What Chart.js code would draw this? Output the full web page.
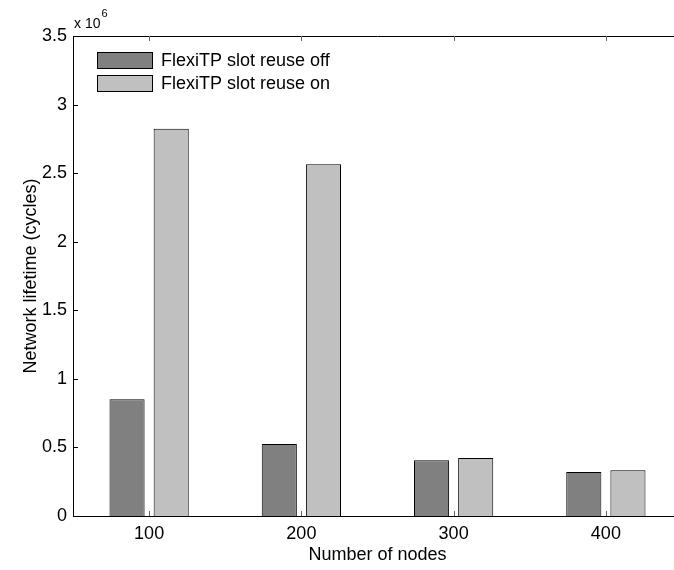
<!DOCTYPE html>
<html>
<head>
<meta charset="utf-8">
<script src="https://cdn.jsdelivr.net/npm/chart.js@4"></script>
<style>
  html, body { margin: 0; padding: 0; background: #fff; overflow: hidden; }
  /* the plot box runs a little past the right edge, so clip the canvas */
  #wrap { width: 674px; height: 570px; overflow: hidden; position: relative; }
  #lifetimeChart { position: absolute; left: 0; top: 0; }
</style>
</head>
<body>
<div id="wrap"><canvas id="lifetimeChart" width="690" height="570"></canvas></div>
<script>
const nodes = ['100', '200', '300', '400'];
const reuseOff = [851000, 525000, 406000, 321000];
const reuseOn = [2823000, 2565000, 423000, 333000];
const yTicks = [0, 0.5e6, 1e6, 1.5e6, 2e6, 2.5e6, 3e6, 3.5e6];

const FONT = '"Liberation Sans", Arial, sans-serif';
Chart.defaults.font.family = FONT;
Chart.defaults.font.size = 18;
Chart.defaults.color = '#000';

// box, inward tick marks, inset legend and the exponent note
const frame = {
  id: 'frame',
  afterDraw(chart) {
    const c = chart.ctx;
    const a = chart.chartArea;
    const xs = chart.scales.x, ys = chart.scales.y;
    c.save();
    c.strokeStyle = '#000';
    c.lineWidth = 1;
    c.beginPath();
    c.moveTo(a.left, a.top + 0.5);
    c.lineTo(a.right, a.top + 0.5);
    c.moveTo(a.right - 0.5, a.top);
    c.lineTo(a.right - 0.5, a.bottom);
    yTicks.forEach(v => {
      const y = Math.round(ys.getPixelForValue(v)) + 0.5;
      c.moveTo(a.left, y); c.lineTo(a.left + 5, y);
      c.moveTo(a.right, y); c.lineTo(a.right - 5, y);
    });
    c.stroke();
    c.strokeStyle = '#666';
    c.beginPath();
    nodes.forEach((n, i) => {
      const x = Math.round(xs.getPixelForTick(i)) + 0.5;
      c.moveTo(x, a.bottom); c.lineTo(x, a.bottom - 5);
      c.moveTo(x, a.top); c.lineTo(x, a.top + 5);
    });
    c.stroke();

    // legend
    chart.data.datasets.forEach((ds, i) => {
      const x = a.left + 24, y = a.top + 16 + i * 23;
      c.fillStyle = ds.backgroundColor;
      c.fillRect(x, y, 56, 17);
      c.strokeStyle = '#000';
      c.strokeRect(x + 0.5, y + 0.5, 55, 16);
      c.fillStyle = '#000';
      c.textAlign = 'left';
      c.textBaseline = 'middle';
      c.font = '18px ' + FONT;
      c.fillText(ds.label, x + 64, y + 9);
    });

    // x 10^6
    c.textBaseline = 'alphabetic';
    c.font = '14px ' + FONT;
    c.fillText('x 10', a.left + 1, a.top - 8);
    const w = c.measureText('x 10').width;
    c.font = '11px ' + FONT;
    c.fillText('6', a.left + 2 + w, a.top - 19);
    c.restore();
  }
};

new Chart(document.getElementById('lifetimeChart'), {
  type: 'bar',
  data: {
    labels: nodes,
    datasets: [
      {
        label: 'FlexiTP slot reuse off',
        data: reuseOff,
        backgroundColor: '#808080',
        borderColor: '#000',
        borderWidth: 1,
        categoryPercentage: 0.58,
        barPercentage: 0.795
      },
      {
        label: 'FlexiTP slot reuse on',
        data: reuseOn,
        backgroundColor: '#c0c0c0',
        borderColor: '#000',
        borderWidth: 1,
        categoryPercentage: 0.58,
        barPercentage: 0.795
      }
    ]
  },
  options: {
    responsive: false,
    animation: false,
    layout: { padding: { top: 36, right: 8, left: 0, bottom: 0 } },
    plugins: {
      legend: { display: false },
      tooltip: { enabled: false }
    },
    scales: {
      x: {
        grid: { display: false, drawTicks: false },
        border: { color: '#000', width: 1 },
        ticks: { padding: 7, maxRotation: 0 },
        title: { display: true, text: 'Number of nodes', padding: { top: 0, bottom: 4 } },
        afterFit(scale) { scale.height = 54; }
      },
      y: {
        min: 0,
        max: 3.5e6,
        grid: { display: false, drawTicks: false },
        border: { color: '#000', width: 1 },
        ticks: {
          stepSize: 0.5e6,
          padding: 6,
          callback: v => String(v / 1e6)
        },
        title: { display: true, text: 'Network lifetime (cycles)', padding: { top: 20, bottom: 0 } },
        afterFit(scale) { scale.width = 73; }
      }
    }
  },
  plugins: [frame]
});
</script>
</body>
</html>
